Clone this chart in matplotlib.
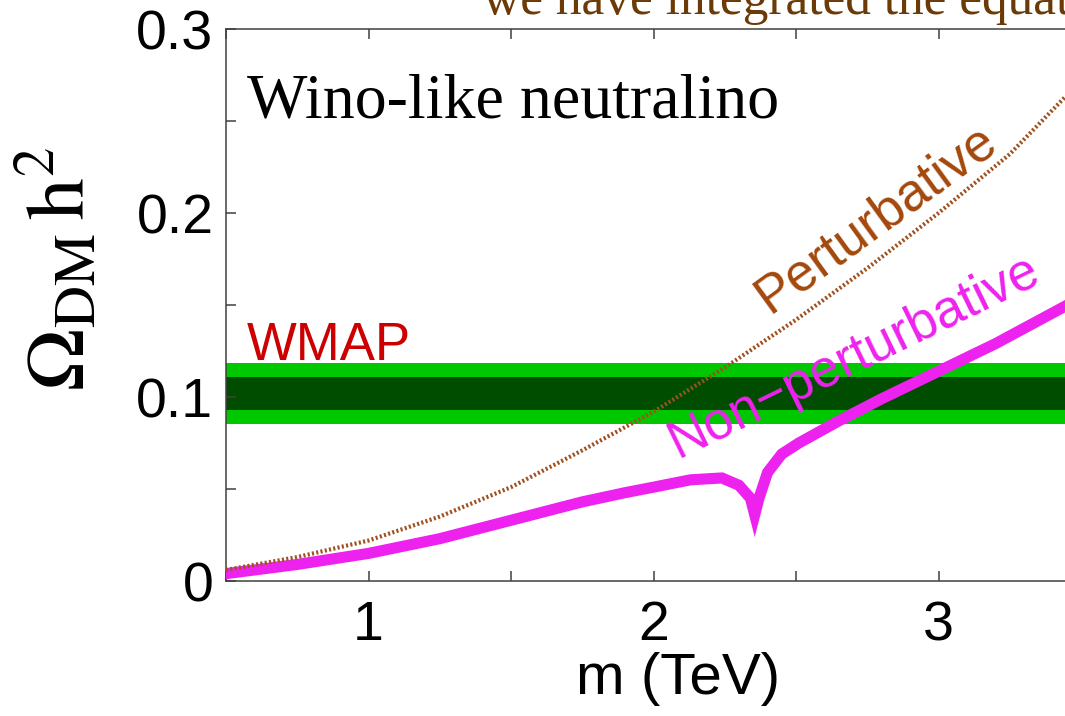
import numpy as np
import matplotlib.pyplot as plt
from matplotlib.ticker import MultipleLocator

plt.rcParams['mathtext.fontset'] = 'stix'

# perturbative relic abundance (brown dotted)
m_pert = [0.5, 0.75, 1.0, 1.25, 1.5, 1.75, 2.0, 2.25, 2.5, 2.75, 3.0, 3.25, 3.5]
omega_pert = [0.006, 0.013, 0.022, 0.035, 0.051, 0.071, 0.092, 0.116, 0.142, 0.170, 0.200, 0.232, 0.272]

# non-perturbative (Sommerfeld) relic abundance (magenta)
m_np = [0.5, 0.75, 1.0, 1.25, 1.5, 1.75, 1.9, 2.0, 2.13, 2.24, 2.30, 2.34, 2.355,
        2.37, 2.40, 2.45, 2.51, 2.65, 2.8, 3.0, 3.2, 3.44, 3.5]
omega_np = [0.004, 0.009, 0.015, 0.023, 0.033, 0.043, 0.048, 0.051, 0.055, 0.056, 0.052, 0.045, 0.036,
            0.045, 0.059, 0.069, 0.075, 0.087, 0.099, 0.114, 0.129, 0.149, 0.154]

# WMAP band: centre, 1 sigma, 2 sigma
wmap_c = 0.1019
wmap_1s = 0.009
wmap_2s = 0.0168

fig = plt.figure(figsize=(10.65, 7.16), dpi=100)
ax = fig.add_axes([226/1065, 135/716, 903.5/1065, 552/716])

ax.axhspan(wmap_c - wmap_2s, wmap_c + wmap_2s, color='#00c800', lw=0, zorder=1)
ax.axhspan(wmap_c - wmap_1s, wmap_c + wmap_1s, color='#004d00', lw=0, zorder=1.1)

ax.plot(m_np, omega_np, color='#ee22ee', lw=8, solid_joinstyle='miter', zorder=3)
ax.plot(m_pert, omega_pert, color='#a0501e', lw=3, ls=(0, (0.5, 0.55)), zorder=4)

ax.set_xlim(0.5, 3.67)
ax.set_ylim(0, 0.3)

ax.xaxis.set_major_locator(MultipleLocator(1))
ax.xaxis.set_minor_locator(MultipleLocator(0.5))
ax.yaxis.set_major_locator(MultipleLocator(0.1))
ax.yaxis.set_minor_locator(MultipleLocator(0.05))
ax.set_yticks([0, 0.1, 0.2, 0.3])
ax.set_yticklabels(['0', '0.1', '0.2', '0.3'])

for which in ['major', 'minor']:
    ax.tick_params(which=which, direction='in', length=7, width=1.1, color='#404040',
                   top=True, right=True)
ax.tick_params(axis='x', labelsize=40, pad=14)
ax.tick_params(axis='y', labelsize=40, pad=9)
for lab in ax.get_xticklabels() + ax.get_yticklabels():
    lab.set_family('Liberation Sans')
for sp in ax.spines.values():
    sp.set_color('#404040')
    sp.set_linewidth(1.1)

ax.set_xlabel('m (TeV)', fontsize=42, family='Liberation Sans', labelpad=0)
ax.set_ylabel(r'$\Omega_{\rm DM}\,{\rm h}^2$', fontsize=60)
ax.yaxis.set_label_coords(-0.137, 0.565)

ax.text(0.574, 0.252, 'Wino-like neutralino', fontsize=46, family='Liberation Serif',
        va='baseline', ha='left')
ax.text(0.574, 0.120, 'WMAP', fontsize=38, family='Liberation Sans', color='#cc0000',
        va='baseline', ha='left')
ax.text(2.78, 0.197, 'Perturbative', fontsize=38, family='Liberation Sans', color='#a4480c',
        rotation=36, rotation_mode='anchor', ha='center', va='center')
ax.text(2.704, 0.122, 'Non\u2212perturbative', fontsize=38, family='Liberation Sans',
        color='#ee22ee', rotation=26, rotation_mode='anchor', ha='center', va='center')

fig.text(483/1065, 702/716, 'we have integrated the equations', fontsize=37,
         family='Liberation Serif', color='#6b3a06', va='baseline', ha='left')

fig.savefig('out.png', dpi=100)
